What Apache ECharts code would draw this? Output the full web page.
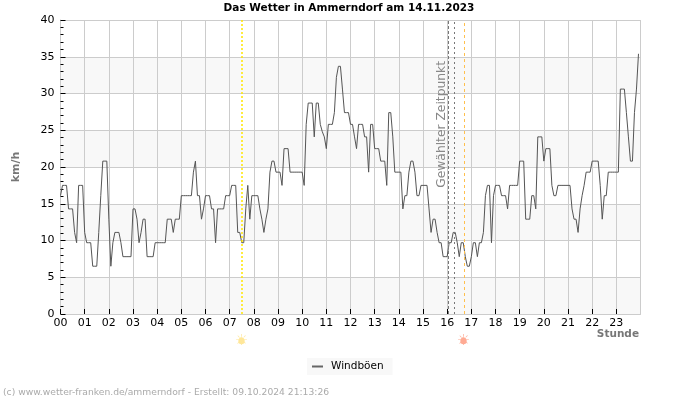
<!DOCTYPE html>
<html><head><meta charset="utf-8">
<style>html,body{margin:0;padding:0;background:#fff}#c{width:700px;height:400px}</style>
<script src="https://cdn.jsdelivr.net/npm/echarts@6/dist/echarts.min.js"></script>
</head><body><div id="c"></div>
<script>
const hourLabels=['00','01','02','03','04','05','06','07','08','09','10','11','12','13','14','15','16','17','18','19','20','21','22','23'];
const stepMinutes=5;
const windGusts=[
16.1,17.5,17.5,17.5,14.3,14.3,14.3,11.1,9.7,17.5,17.5,17.5,
11.1,9.7,9.7,9.7,6.5,6.5,6.5,11.1,16.1,20.8,20.8,20.8,
12.9,6.5,9.7,11.1,11.1,11.1,9.7,7.8,7.8,7.8,7.8,7.8,
14.3,14.3,12.9,9.7,11.1,12.9,12.9,7.8,7.8,7.8,7.8,9.7,
9.7,9.7,9.7,9.7,9.7,12.9,12.9,12.9,11.1,12.9,12.9,12.9,
16.1,16.1,16.1,16.1,16.1,16.1,19.3,20.8,16.1,16.1,12.9,14.3,
16.1,16.1,16.1,14.3,14.3,9.7,14.3,14.3,14.3,14.3,16.1,16.1,
16.1,17.5,17.5,17.5,11.1,11.1,9.7,9.7,14.3,17.5,12.9,16.1,
16.1,16.1,16.1,14.3,12.9,11.1,12.9,14.3,19.3,20.8,20.8,19.3,
19.3,19.3,17.5,22.5,22.5,22.5,19.3,19.3,19.3,19.3,19.3,19.3,
19.3,17.5,25.8,28.7,28.7,28.7,24.1,28.7,28.7,25.8,24.8,24.1,
22.5,25.8,25.8,25.8,27.4,32.2,33.7,33.7,30.6,27.4,27.4,27.4,
25.8,25.8,24.1,22.5,25.8,25.8,25.8,24.1,24.1,19.3,25.8,25.8,
22.5,22.5,22.5,20.8,20.8,20.8,17.5,27.4,27.4,24.1,19.3,19.3,
19.3,19.3,14.3,16.1,16.1,19.3,20.8,20.8,19.3,16.1,16.1,17.5,
17.5,17.5,17.5,14.3,11.1,12.9,12.9,11.1,9.7,9.7,7.8,7.8,
7.8,9.7,9.7,11.1,11.1,9.7,7.8,9.7,9.7,7.8,6.5,6.5,
7.8,9.7,9.7,7.8,9.7,9.7,11.1,16.1,17.5,17.5,9.7,16.1,
17.5,17.5,17.5,16.1,16.1,16.1,14.3,17.5,17.5,17.5,17.5,17.5,
20.8,20.8,20.8,12.9,12.9,12.9,16.1,16.1,14.3,24.1,24.1,24.1,
20.8,22.5,22.5,22.5,17.5,16.1,16.1,17.5,17.5,17.5,17.5,17.5,
17.5,17.5,14.3,12.9,12.9,11.1,14.3,16.1,17.5,19.3,19.3,19.3,
20.8,20.8,20.8,20.8,17.5,12.9,16.1,16.1,19.3,19.3,19.3,19.3,
19.3,19.3,30.6,30.6,30.6,27.4,24.1,20.8,20.8,27.4,30.6,35.4
];
const yBandColors=['#f8f8f8','#ffffff'];
const sunriseHour=7.49, selectedHour=16.055, markerHour=16.303, sunsetHour=16.717;
const titleText='Das Wetter in Ammerndorf am 14.11.2023';
const footerText='(c) www.wetter-franken.de/ammerndorf - Erstellt: 09.10.2024 21:13:26';
const selectedLabel='Gewählter Zeitpunkt';

const font='"DejaVu Sans"';
const chart=echarts.init(document.getElementById('c'),null,{renderer:'canvas'});
const vline=(x,color,type,label,width)=>({xAxis:x,lineStyle:{color:color,width:width||1,type:type},label:label||{show:false}});
const sun=(x,fill)=>({type:'group',x:x,y:341,children:[
  {type:'circle',shape:{cx:0,cy:0,r:3.2},style:{fill:fill}},
  {type:'text',x:0,y:0,style:{text:'☀',font:'15px "DejaVu Sans"',fill:fill,align:'center',verticalAlign:'middle'}}]});
chart.setOption({
  animation:false,
  backgroundColor:'#fff',
  textStyle:{fontFamily:font},
  title:{text:titleText,left:349,top:3,padding:0,textAlign:'center',textStyle:{fontFamily:font,fontSize:10.5,fontWeight:'bold',color:'#000'}},
  grid:{left:60.5,right:59.5,top:20,bottom:86,containLabel:false},
  legend:{left:307,top:358,padding:[3,9,3,5],backgroundColor:'#f8f8f8',itemWidth:11,itemHeight:2,icon:'rect',
    textStyle:{fontFamily:font,fontSize:10.5,color:'#000',padding:[0,0,0,3]},data:['Windböen']},
  xAxis:{type:'value',min:0,max:24,interval:1,
    axisLine:{onZero:false,lineStyle:{color:'#ccc',width:1}},
    axisTick:{inside:true,length:5,lineStyle:{color:'#000',width:1}},
    axisLabel:{fontFamily:font,fontSize:11,color:'#000',margin:4,formatter:v=>hourLabels[v]??'',hideOverlap:false,showMaxLabel:false},
    splitLine:{show:true,lineStyle:{color:'#ccc',width:1}}},
  yAxis:{type:'value',min:0,max:40,interval:5,
    name:'km/h',nameLocation:'middle',nameGap:39,nameRotate:90,
    nameTextStyle:{fontFamily:font,fontSize:11,fontWeight:'bold',color:'#777'},
    axisLine:{show:true,lineStyle:{color:'#ccc',width:1}},
    axisTick:{show:true,inside:true,length:5,lineStyle:{color:'#000',width:1}},
    minorTick:{show:true,splitNumber:5,length:3,lineStyle:{color:'#000',width:1}},
    axisLabel:{fontFamily:font,fontSize:11,color:'#000',margin:6},
    splitLine:{show:true,lineStyle:{color:'#ccc',width:1}},
    splitArea:{show:true,areaStyle:{color:yBandColors}}},
  series:[{name:'Windböen',type:'line',showSymbol:false,smooth:false,
    lineStyle:{color:'#555',width:1},itemStyle:{color:'#666'},
    data:windGusts.map((v,i)=>[i*stepMinutes/60,v]),
    markLine:{silent:true,symbol:'none',animation:false,
      data:[vline(sunriseHour,'#ffe600',[2,2],null,1.5),
        vline(selectedHour,'#777',[3,2],{show:true,formatter:selectedLabel,position:'insideEndTop',distance:1,padding:[0,40,0,0],
          fontFamily:font,fontSize:12.3,color:'#888',textBorderWidth:0}),
        vline(markerHour,'#777',[2,3]),vline(sunsetHour,'#ffc04d',[3,3])]}}],
  graphic:[
    {type:'text',x:639,y:334,style:{text:'Stunde',font:'bold 10.5px "DejaVu Sans"',fill:'#777',align:'right',verticalAlign:'middle'}},
    {type:'text',x:3,y:393,style:{text:footerText,font:'9.2px "DejaVu Sans"',fill:'#aaa',align:'left',verticalAlign:'middle'}},
    sun(241.5,'#ffe79a'),
    sun(463.5,'#ffab94')
  ]
});
</script></body></html>
